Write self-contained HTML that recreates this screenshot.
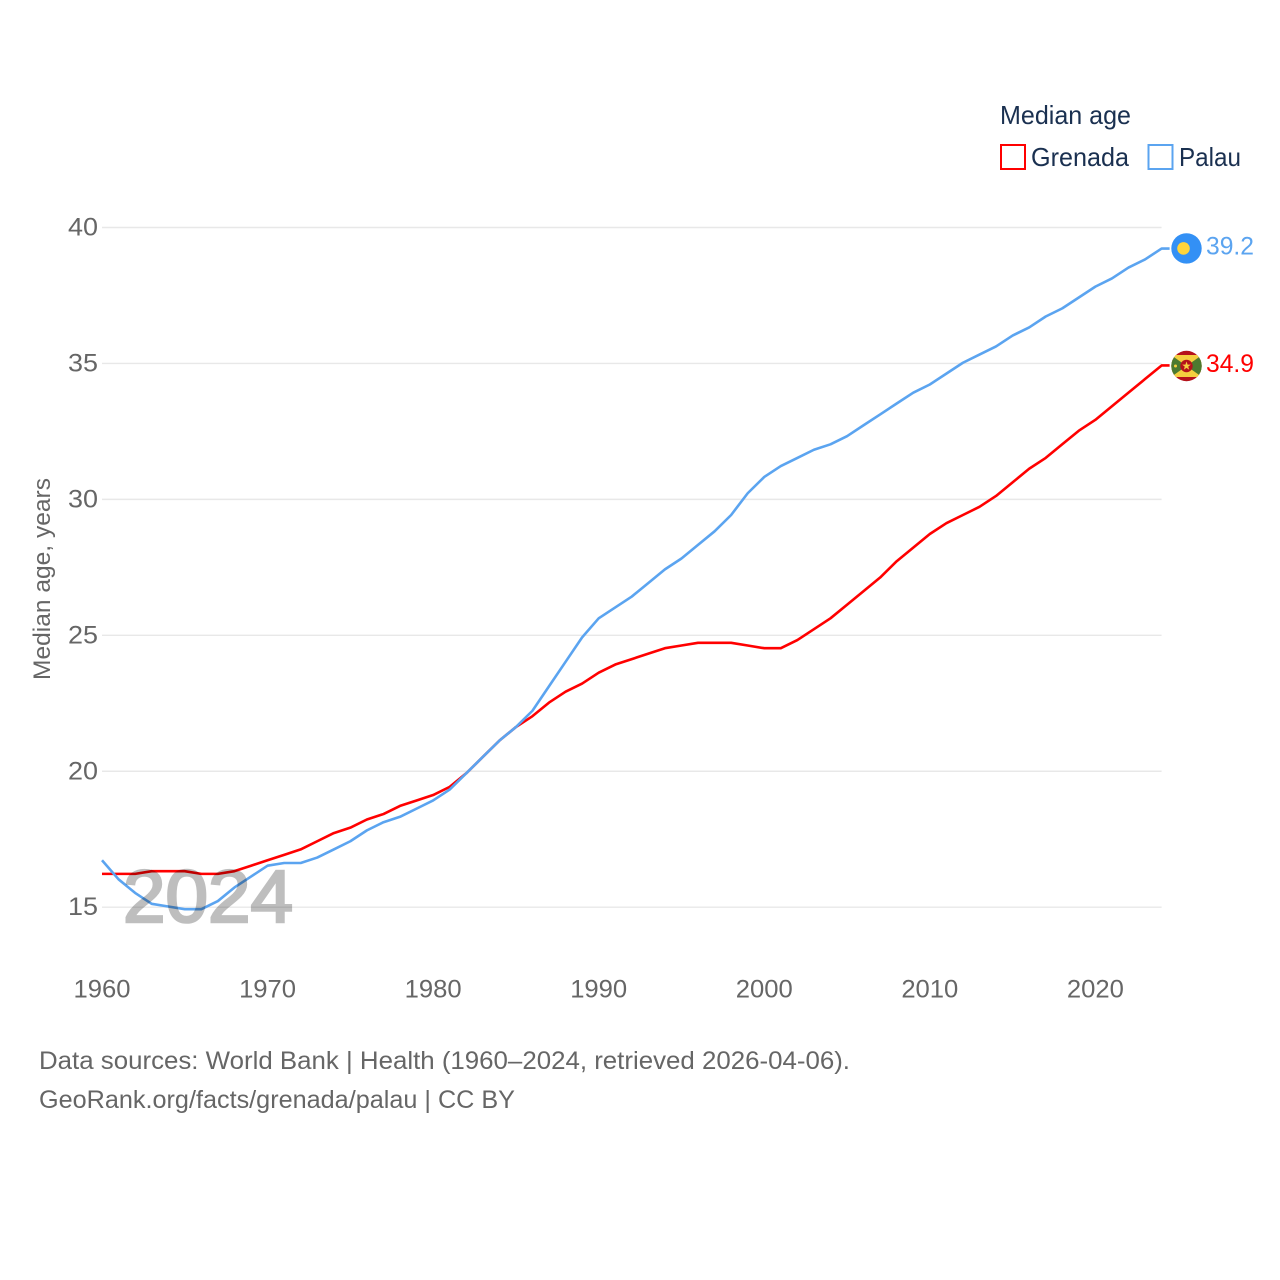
<!DOCTYPE html>
<html lang="en">
<head>
<meta charset="utf-8">
<title>Median age: Grenada and Palau</title>
<style>
html,body{margin:0;padding:0;background:#fff}
svg{display:block}
text{font-family:"Liberation Sans",sans-serif}
</style>
</head>
<body>
<svg id="chart" xmlns="http://www.w3.org/2000/svg" width="1280" height="1280" viewBox="0 0 1280 1280">
  <rect width="1280" height="1280" fill="#fff"/>
  <g id="grid"></g>
  <g id="yticks"></g>
  <g id="xticks"></g>
  <text transform="translate(50,579) rotate(-90)" text-anchor="middle" font-size="24.5" fill="#666" textLength="202" lengthAdjust="spacingAndGlyphs">Median age, years</text>
  <g id="series"></g>
  <text id="year-label" x="123" y="922" font-size="74" fill="#000" stroke="#000" stroke-width="2.6" opacity="0.25" textLength="170" lengthAdjust="spacingAndGlyphs">2024</text>

  <g id="flag-palau">
    <circle cx="1186.5" cy="248.4" r="15.2" fill="#3390f5"/>
    <circle cx="1183.5" cy="248.4" r="6.3" fill="#ffd43b"/>
  </g>
  <g id="flag-grenada">
    <clipPath id="gclip"><circle cx="1186.5" cy="366" r="15.2"/></clipPath>
    <g clip-path="url(#gclip)">
      <rect x="1171" y="350" width="31" height="32" fill="#b5121b"/>
      <rect x="1171" y="355" width="31" height="22" fill="#f5cf3f"/>
      <polygon points="1171,355 1186.5,366 1171,377" fill="#4c7a30"/>
      <polygon points="1202,355 1186.5,366 1202,377" fill="#4c7a30"/>
      <circle cx="1186.5" cy="366" r="6.2" fill="#b5121b"/>
      <polygon points="1186.5,361.5 1187.6,364.6 1190.8,364.6 1188.2,366.6 1189.2,369.8 1186.5,367.9 1183.8,369.8 1184.8,366.6 1182.2,364.6 1185.4,364.6" fill="#f5cf3f"/>
      <circle cx="1175.5" cy="366" r="1.5" fill="#f5cf3f"/>
    </g>
  </g>
  <text id="value-palau" x="1206" y="254.5" font-size="25" fill="#5ba4f0" textLength="48" lengthAdjust="spacingAndGlyphs">39.2</text>
  <text id="value-grenada" x="1206" y="372" font-size="25" fill="#ff0000" textLength="48" lengthAdjust="spacingAndGlyphs">34.9</text>

  <g>
    <text x="1000" y="124" font-size="26" fill="#1a3050" textLength="131" lengthAdjust="spacingAndGlyphs">Median age</text>
    <g>
      <rect x="1001" y="145" width="24" height="24" fill="#fff" stroke="#ff0000" stroke-width="2"/>
      <text x="1031" y="166" font-size="26" fill="#1a3050" textLength="98" lengthAdjust="spacingAndGlyphs">Grenada</text>
    </g>
    <g>
      <rect x="1148.5" y="145" width="24" height="24" fill="#fff" stroke="#5ba4f0" stroke-width="2"/>
      <text x="1179" y="166" font-size="26" fill="#1a3050" textLength="62" lengthAdjust="spacingAndGlyphs">Palau</text>
    </g>
  </g>

  <text x="39" y="1069" font-size="25" fill="#666" textLength="811" lengthAdjust="spacingAndGlyphs">Data sources: World Bank | Health (1960–2024, retrieved 2026-04-06).</text>
  <text x="39" y="1108" font-size="25" fill="#666" textLength="476" lengthAdjust="spacingAndGlyphs">GeoRank.org/facts/grenada/palau | CC BY</text>
</svg>
<script>
const startYear = 1960;
const endYear = 2024;
const yTickLabels = [15, 20, 25, 30, 35, 40];
const xTickLabels = [1960, 1970, 1980, 1990, 2000, 2010, 2020];
const grenadaValues = [16.2,16.2,16.2,16.3,16.3,16.3,16.2,16.2,16.3,16.5,16.7,16.9,17.1,17.4,17.7,17.9,18.2,18.4,18.7,18.9,19.1,19.4,19.9,20.5,21.1,21.6,22.0,22.5,22.9,23.2,23.6,23.9,24.1,24.3,24.5,24.6,24.7,24.7,24.7,24.6,24.5,24.5,24.8,25.2,25.6,26.1,26.6,27.1,27.7,28.2,28.7,29.1,29.4,29.7,30.1,30.6,31.1,31.5,32.0,32.5,32.9,33.4,33.9,34.4,34.9];
const palauValues = [16.7,16.0,15.5,15.1,15.0,14.9,14.9,15.2,15.7,16.1,16.5,16.6,16.6,16.8,17.1,17.4,17.8,18.1,18.3,18.6,18.9,19.3,19.9,20.5,21.1,21.6,22.2,23.1,24.0,24.9,25.6,26.0,26.4,26.9,27.4,27.8,28.3,28.8,29.4,30.2,30.8,31.2,31.5,31.8,32.0,32.3,32.7,33.1,33.5,33.9,34.2,34.6,35.0,35.3,35.6,36.0,36.3,36.7,37.0,37.4,37.8,38.1,38.5,38.8,39.2];

const NS = 'http://www.w3.org/2000/svg';
const plotLeft = 102, plotRight = 1161.6;
const y40 = 227.5, y15 = 907.2;
const lineOffset = -0.7;
function xScale(year) {
  return plotLeft + (year - startYear) * (plotRight - plotLeft) / (endYear - startYear);
}
function yScale(value) {
  return y15 - (value - 15) * (y15 - y40) / 25;
}

const gridGroup = document.getElementById('grid');
const yTickGroup = document.getElementById('yticks');
const xTickGroup = document.getElementById('xticks');
const seriesGroup = document.getElementById('series');

yTickLabels.forEach(function (v) {
  const line = document.createElementNS(NS, 'line');
  
  
  line.setAttribute('x1', plotLeft);
  line.setAttribute('x2', plotRight);
  line.setAttribute('y1', yScale(v));
  line.setAttribute('y2', yScale(v));
  line.setAttribute('stroke', '#e8e8e8');
  line.setAttribute('stroke-width', '1.4');
  gridGroup.appendChild(line);

  const label = document.createElementNS(NS, 'text');
  
  
  label.setAttribute('x', 98);
  label.setAttribute('y', yScale(v) + 8);
  label.setAttribute('text-anchor', 'end');
  label.setAttribute('font-size', '25');
  label.setAttribute('fill', '#666');
  label.setAttribute('textLength', '30');
  label.setAttribute('lengthAdjust', 'spacingAndGlyphs');
  label.textContent = String(v);
  yTickGroup.appendChild(label);
});

xTickLabels.forEach(function (yr) {
  const label = document.createElementNS(NS, 'text');
  
  
  label.setAttribute('x', xScale(yr));
  label.setAttribute('y', 997.5);
  label.setAttribute('text-anchor', 'middle');
  label.setAttribute('font-size', '25');
  label.setAttribute('fill', '#666');
  label.setAttribute('textLength', '57');
  label.setAttribute('lengthAdjust', 'spacingAndGlyphs');
  label.textContent = String(yr);
  xTickGroup.appendChild(label);
});

function drawSeries(values, color) {
  const pts = values.map(function (v, i) {
    return xScale(startYear + i).toFixed(2) + ',' + (yScale(v) + lineOffset).toFixed(2);
  });
  const last = (yScale(values[values.length - 1]) + lineOffset).toFixed(2);
  pts.push((plotRight + 8).toFixed(2) + ',' + last);
  const line = document.createElementNS(NS, 'polyline');
  
  
  line.setAttribute('points', pts.join(' '));
  line.setAttribute('fill', 'none');
  line.setAttribute('stroke', color);
  line.setAttribute('stroke-width', '2.6');
  line.setAttribute('stroke-linejoin', 'round');
  seriesGroup.appendChild(line);
}
drawSeries(grenadaValues, '#ff0000');
drawSeries(palauValues, '#5ba4f0');
</script>
</body>
</html>
